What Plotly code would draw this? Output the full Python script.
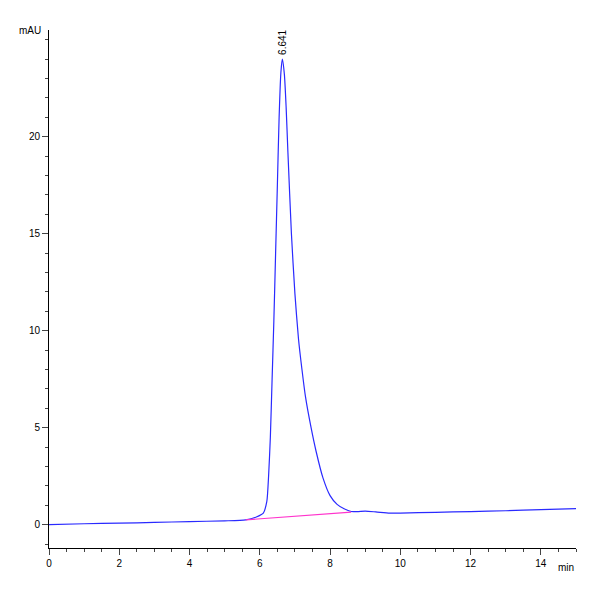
import plotly.graph_objects as go

# chromatogram
time_min = [0, 1, 2, 3, 4, 5, 5.6, 5.9, 6.1, 6.2, 6.25, 6.3, 6.35, 6.4, 6.45, 6.5, 6.55, 6.6, 6.641,
            6.7, 6.75, 6.8, 6.9, 7.0, 7.1, 7.2, 7.3, 7.46, 7.6, 7.8, 8.0, 8.2, 8.4, 8.6, 8.8, 9.0,
            9.3, 9.7, 10, 11, 12, 13, 14, 15]
signal_mau = [0.0, 0.05, 0.08, 0.12, 0.16, 0.2, 0.25, 0.4, 0.6, 1.2, 2.5, 4.5, 7.5, 10.5, 14, 17.5,
              21, 23.3, 24.0, 23.2, 21.5, 19.2, 15.0, 11.9, 9.6, 8.0, 6.6, 5.0, 3.8, 2.4, 1.5, 1.05,
              0.82, 0.68, 0.68, 0.7, 0.66, 0.6, 0.6, 0.64, 0.68, 0.72, 0.78, 0.83]
baseline_t = [5.6, 8.6]
baseline_y = [0.25, 0.65]
peak_rt = 6.641
peak_h = 24.0

fig = go.Figure()
fig.add_trace(go.Scatter(x=time_min, y=signal_mau, mode="lines",
                         line=dict(color="#2a2aff", width=1.2, shape="spline", smoothing=0.6)))
fig.add_trace(go.Scatter(x=baseline_t, y=baseline_y, mode="lines",
                         line=dict(color="#ff33cc", width=1.2)))
fig.add_annotation(x=peak_rt, y=peak_h, text=f"{peak_rt:.3f}", textangle=-90, showarrow=False,
                   yanchor="bottom", yshift=2, font=dict(size=10, color="black"))
fig.add_annotation(x=0, y=1, xref="paper", yref="paper", text="mAU", showarrow=False,
                   xanchor="right", xshift=-6, yanchor="middle", font=dict(size=10, color="black"))
fig.add_annotation(x=1, y=0, xref="paper", yref="paper", text="min", showarrow=False,
                   xanchor="right", xshift=0, yanchor="top", yshift=-12, font=dict(size=10, color="black"))

fig.update_layout(
    width=600, height=600, showlegend=False,
    plot_bgcolor="white", paper_bgcolor="white",
    margin=dict(l=41, r=32, t=22, b=60),
    font=dict(family="Liberation Sans Narrow, Liberation Sans", size=10, color="black"),
)
fig.update_xaxes(range=[0, 15], tickvals=[0, 2, 4, 6, 8, 10, 12, 14], showgrid=False, zeroline=False,
                 showline=True, linecolor="black", ticks="outside", ticklen=6,
                 minor=dict(dtick=0.5, ticks="outside", ticklen=3))
fig.update_yaxes(range=[-1.2, 25.5], tickvals=[0, 5, 10, 15, 20], showgrid=False, zeroline=False,
                 showline=True, linecolor="black", ticks="outside", ticklen=6,
                 minor=dict(dtick=1, ticks="outside", ticklen=3))
fig.write_html("out.html")
